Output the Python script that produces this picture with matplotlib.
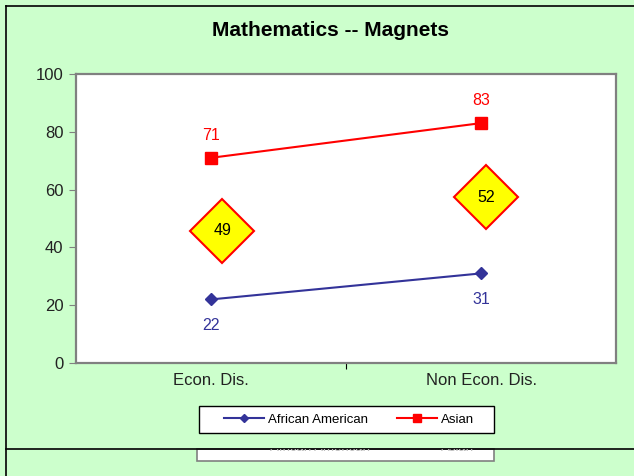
import matplotlib.pyplot as plt
from matplotlib.patches import Rectangle
from matplotlib.lines import Line2D

plt.rcParams['font.family'] = ['Liberation Sans', 'DejaVu Sans']

# data
categories = ["Econ. Dis.", "Non Econ. Dis."]
african_american = [22, 31]
asian = [71, 83]
gaps = [49, 52]

W, H = 634, 476
fig = plt.figure(figsize=(W / 100, H / 100), dpi=100)
fig.patch.set_facecolor('#CCFFCC')

def fx(px):
    return px / W

def fy(py):
    return 1 - py / H

ax = fig.add_axes([fx(76), fy(363), fx(616) - fx(76), fy(74) - fy(363)])
ax.set_facecolor('white')
for s in ax.spines.values():
    s.set_color('#808080')
    s.set_linewidth(1.6)

xpos = [0.5, 1.5]
ax.plot(xpos, african_american, color='#333399', marker='D', markersize=6,
        linewidth=1.5, label='African American')
ax.plot(xpos, asian, color='#FF0000', marker='s', markersize=8,
        linewidth=1.5, label='Asian')

for x, v in zip(xpos, african_american):
    ax.annotate(str(v), (x, v), xytext=(0, -19), textcoords='offset points',
                ha='center', va='center', color='#333399', fontsize=11.5)
for x, v in zip(xpos, asian):
    ax.annotate(str(v), (x, v), xytext=(0, 16), textcoords='offset points',
                ha='center', va='center', color='#FF0000', fontsize=11.5)

# yellow diamonds with the gap between groups
diamond_pos = [(0.542, 45.7), (1.518, 57.4)]
for (x, y), g in zip(diamond_pos, gaps):
    ax.plot([x], [y], marker='D', markersize=33, markerfacecolor='#FFFF00',
            markeredgecolor='#FF0000', markeredgewidth=1.5, zorder=3)
    ax.text(x, y, str(g), ha='center', va='center', fontsize=11.5, zorder=4)

ax.set_xlim(0, 2)
ax.set_ylim(0, 100)
ax.set_yticks(range(0, 101, 20))
ax.set_xticks([1])
ax.set_xticklabels([''])
ax.tick_params(axis='x', length=4, direction='out', color='black')
ax.tick_params(axis='y', length=5, direction='out', color='#808080',
               labelsize=12, labelcolor='#222222', pad=4)
for x, c in zip(xpos, categories):
    ax.text(x, -3.5, c, ha='center', va='top', fontsize=12, color='#222222')

fig.text(fx(331), fy(31), "Mathematics -- Magnets", ha='center', va='center',
         fontsize=15, fontweight='bold')

# legend box drawn by hand so its padding matches
fig.add_artist(Rectangle((fx(199), fy(433)), fx(494) - fx(199), fy(406) - fy(433),
                         transform=fig.transFigure, facecolor='white',
                         edgecolor='black', linewidth=1.0))
leg = fig.legend(loc='center', bbox_to_anchor=(fx(349), fy(419.5)), ncol=2,
                 frameon=False, fontsize=9.5, handlelength=3.0,
                 handletextpad=0.3, columnspacing=2.2, borderpad=0.0,
                 markerscale=0.65)

# frame lines and the cut-off duplicate legend at the bottom
fig.add_artist(Line2D([fx(6), fx(6)], [fy(6), 0], color='black', linewidth=1.2))
fig.add_artist(Line2D([fx(6), 1], [fy(6), fy(6)], color='black', linewidth=1.2))
ghost = Rectangle((fx(197), fy(461)), fx(494) - fx(197), fy(449) - fy(461),
                  transform=fig.transFigure, facecolor='white',
                  edgecolor='#808080', linewidth=1.2)
fig.add_artist(ghost)
for tx, t in [(fx(320), "African American"), (fx(458), "Asian")]:
    txt = fig.text(tx, fy(448), t, ha='center', va='center', fontsize=9.5,
                   color='#bbbbbb')
    txt.set_clip_path(ghost)
fig.add_artist(Line2D([fx(6), 1], [fy(449), fy(449)], color='black', linewidth=1.2))

fig.savefig('out.png', dpi=100, facecolor=fig.get_facecolor())
